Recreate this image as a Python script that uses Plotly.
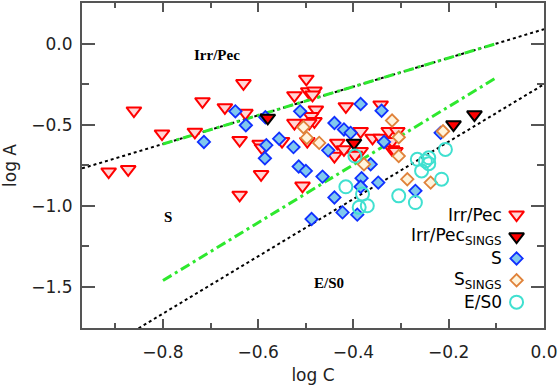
import plotly.graph_objects as go

# ---- data ----
# Irr/Pec (open red triangles)
irr_C = [-0.914, -0.873, -0.861, -0.802, -0.717, -0.733, -0.670, -0.631, -0.627, -0.639,
         -0.597, -0.592, -0.594, -0.639, -0.524, -0.524, -0.499, -0.550, -0.507, -0.497,
         -0.495, -0.482, -0.486, -0.479, -0.489, -0.482, -0.493, -0.416, -0.343, -0.385,
         -0.434, -0.420, -0.440, -0.385, -0.360, -0.343, -0.326, -0.319, -0.308, -0.319,
         -0.312, -0.397]
irr_A = [-0.790, -0.775, -0.413, -0.555, -0.356, -0.544, -0.393, -0.244, -0.428, -0.595,
         -0.618, -0.642, -0.806, -0.933, -0.319, -0.489, -0.217, -0.601, -0.877, -0.601,
         -0.294, -0.290, -0.315, -0.407, -0.448, -0.479, -0.489, -0.387, -0.376, -0.540,
         -0.612, -0.652, -0.693, -0.663, -0.581, -0.581, -0.540, -0.601, -0.540, -0.652,
         -0.663, -0.687]

# Irr/Pec SINGS (filled triangles)
irr_sings_C = [-0.580, -0.399, -0.190, -0.146]
irr_sings_A = [-0.458, -0.612, -0.499, -0.437]

# S (blue diamonds)
s_C = [-0.714, -0.648, -0.626, -0.583, -0.586, -0.556, -0.585, -0.526, -0.512, -0.515,
       -0.500, -0.440, -0.420, -0.406, -0.385, -0.341, -0.453, -0.336, -0.364, -0.465,
       -0.383, -0.385, -0.348, -0.440, -0.423, -0.392, -0.488, -0.270, -0.217]
s_A = [-0.606, -0.417, -0.503, -0.626, -0.707, -0.586, -0.454, -0.638, -0.417, -0.758,
       -0.785, -0.489, -0.529, -0.550, -0.372, -0.413, -0.658, -0.606, -0.744, -0.820,
       -0.830, -0.883, -0.857, -0.949, -1.041, -1.055, -1.082, -0.908, -0.550]

# S SINGS (orange diamonds)
s_sings_C = [-0.505, -0.498, -0.472, -0.319, -0.305, -0.305, -0.378, -0.287, -0.238, -0.212]
s_sings_A = [-0.515, -0.581, -0.612, -0.474, -0.577, -0.693, -0.744, -0.836, -0.857, -0.540]

# E/S0 (cyan circles)
es0_C = [-0.397, -0.416, -0.381, -0.388, -0.371, -0.305, -0.270, -0.266, -0.257, -0.249,
         -0.242, -0.242, -0.207, -0.215]
es0_A = [-0.693, -0.883, -0.928, -1.010, -1.000, -0.939, -0.980, -0.713, -0.785, -0.724,
         -0.704, -0.740, -0.652, -0.836]

# dividing lines: (intercept, slope)
upper_line = (0.09, 0.886)
lower_dotted = (-0.25, 1.77)
lower_green = (-0.03, 1.79)
green_C = [-0.8, -0.1]
full_C = [-0.97, 0.0]

region_labels = ["Irr/Pec", "S", "E/S0"]
region_C = [-0.687, -0.789, -0.451]
region_A = [-0.07, -1.072, -1.479]

legend_names = ["Irr/Pec", "Irr/Pec<sub>SINGS</sub>", "S", "S<sub>SINGS</sub>", "E/S0"]


def line(par, xs):
    return [par[0] + par[1] * x for x in xs]


fig = go.Figure()

# lines
fig.add_trace(go.Scatter(x=full_C, y=line(upper_line, full_C), mode="lines",
                         line=dict(color="black", width=2, dash="dot")))
fig.add_trace(go.Scatter(x=full_C, y=line(lower_dotted, full_C), mode="lines",
                         line=dict(color="black", width=2, dash="dot")))
fig.add_trace(go.Scatter(x=green_C, y=line(upper_line, green_C), mode="lines",
                         line=dict(color="#2ee82e", width=3, dash="10px,4px,3px,4px")))
fig.add_trace(go.Scatter(x=green_C, y=line(lower_green, green_C), mode="lines",
                         line=dict(color="#2ee82e", width=3, dash="10px,4px,3px,4px")))

styles = [
    dict(symbol="triangle-down", size=13, color="#ffd6d6", line=dict(color="#ff0000", width=2)),
    dict(symbol="triangle-down", size=13, color="#ff0000", line=dict(color="black", width=2)),
    dict(symbol="diamond", size=9.5, color="#80c8ee", line=dict(color="#1030ff", width=1.8)),
    dict(symbol="diamond", size=9.5, color="#fff4dc", line=dict(color="#e0823a", width=1.8)),
    dict(symbol="circle-open", size=13, color="#40e0d0", line=dict(color="#40e0d0", width=2)),
]

# draw order: Irr/Pec, S, Irr/Pec SINGS, S SINGS, E/S0
for xs, ys, st in [(irr_C, irr_A, styles[0]), (s_C, s_A, styles[2]),
                   (irr_sings_C, irr_sings_A, styles[1]), (s_sings_C, s_sings_A, styles[3]),
                   (es0_C, es0_A, styles[4])]:
    fig.add_trace(go.Scatter(x=xs, y=ys, mode="markers", marker=st))

# region labels
for t, x, y in zip(region_labels, region_C, region_A):
    fig.add_annotation(x=x, y=y, text="<b>%s</b>" % t, showarrow=False,
                       font=dict(family="Liberation Serif", size=15, color="black"))

# legend drawn on a helper axis in pixel units of the plot area
LEG_MARK_X = 517.5
LEG_TEXT_X = 505
LEG_ROWS = [214, 236, 258, 280, 302]
for name, st, yy in zip(legend_names, styles, LEG_ROWS):
    fig.add_trace(go.Scatter(x=[LEG_MARK_X], y=[yy], mode="markers", marker=st,
                             xaxis="x3", yaxis="y3"))
    fig.add_annotation(x=LEG_TEXT_X, y=yy, xref="x3", yref="y3", text=name, showarrow=False,
                       xanchor="right", yanchor="middle",
                       font=dict(family="DejaVu Sans", size=17, color="black"))

axcol = "#555555"
tickfont = dict(family="DejaVu Sans", size=17, color="#222222")
xr = [-0.97, 0.0]
yr = [-1.755, 0.252]

fig.update_layout(
    width=559, height=387,
    margin=dict(l=82, r=14, t=1, b=59),
    paper_bgcolor="white", plot_bgcolor="white",
    showlegend=False,
    xaxis=dict(range=xr, tick0=0, dtick=0.2, tickformat=".1f", ticks="inside", ticklen=9,
               tickwidth=1.5, tickcolor=axcol, showline=True, linecolor=axcol, linewidth=2,
               mirror="ticks",
               showgrid=False, zeroline=False, tickfont=tickfont, ticklabelstandoff=8,
               minor=dict(dtick=0.1, ticks="inside", ticklen=5, tickwidth=1.5, tickcolor=axcol),
               title=dict(text="log C", font=tickfont, standoff=8)),
    yaxis=dict(range=yr, tick0=0, dtick=0.5, tickformat=".1f", ticks="inside", ticklen=13,
               tickwidth=1.5, tickcolor=axcol, showline=True, linecolor=axcol, linewidth=2,
               mirror="ticks",
               showgrid=False, zeroline=False, tickfont=tickfont, ticklabelstandoff=4,
               minor=dict(dtick=0.25, ticks="inside", ticklen=7, tickwidth=1.5, tickcolor=axcol),
               title=dict(text="log A", font=tickfont, standoff=12)),
    xaxis3=dict(range=[82, 545], overlaying="x", visible=False, anchor="y3"),
    yaxis3=dict(range=[328, 1], overlaying="y", visible=False, anchor="x3"),
)

# drop the page's default body margin so the 559x387 figure fills the window
fig.write_html("out.html", config={"displayModeBar": False},
               post_script="document.body.style.margin='0';")
